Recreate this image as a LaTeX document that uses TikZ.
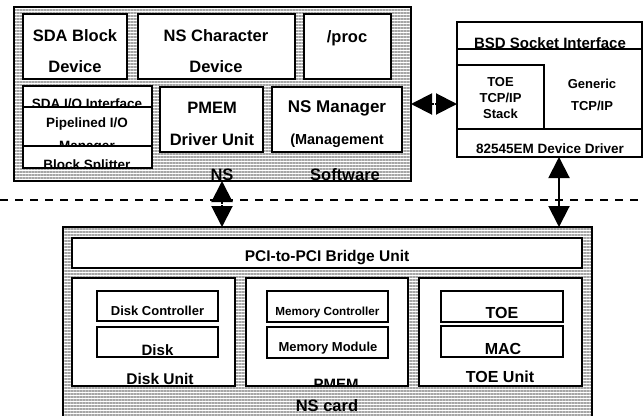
\documentclass[tikz,border=0pt]{standalone}
\usepackage{fontspec}
\setmainfont{Liberation Sans}
\usetikzlibrary{arrows.meta,patterns.meta}

\begin{document}
\begin{tikzpicture}[x=1pt, y=-1pt,
    panel/.style={draw, line width=1.8pt, inner sep=0pt, outer sep=0pt,
      preaction={fill=white},
      pattern={Lines[angle=0, distance=3pt, line width=1.8pt]},
      pattern color=gray!70},
    cell/.style={draw, fill=white, line width=1.4pt, inner sep=0pt, outer sep=0pt},
    dims/.style 2 args={minimum width=#1pt, minimum height=#2pt},
    txt/.style={anchor=base, inner sep=0pt, font=\bfseries\fontsize{#1}{#1}\selectfont},
    txt/.default=13,
    link/.style={line width=2pt,
      {Triangle[length=21pt, width=21pt]}-{Triangle[length=21pt, width=21pt]}},
    split mark/.style={sloped, fill=white, inner sep=0pt, minimum width=1pt, minimum height=#1pt},
    border/.style={line width=1.4pt, dash pattern=on 8pt off 7pt}]

  \useasboundingbox (0,0) rectangle (644,415);

  % NS software on the host
  \node[panel, dims={397}{174}] (sw) at (212.5,94) {};
  \node[cell, dims={104}{65}] (sda) at (75,46.5) {};
  \node[cell, dims={157}{65}] (nschar) at (216.5,46.5) {};
  \node[cell, dims={87}{65}] (proc) at (347.5,46.5) {};
  \node[txt=16.5] (sdaA) at (75,41) {SDA Block};
  \node[txt=16.5] (sdaB) at (75,72) {Device};
  \node[txt=16.5] (nscharA) at (216,41) {NS Character};
  \node[txt=16.5] (nscharB) at (216,72) {Device};
  \node[txt=16.5] (proclbl) at (347,42) {/proc};

  % block path: interface, pipeline, splitter
  \node[cell, dims={129}{21}] (sdaio) at (87.5,96.5) {};
  \node[cell, dims={129}{39}] (pipe) at (87.5,126.5) {};
  \node[cell, dims={129}{22}] (split) at (87.5,157) {};
  \begin{scope}
    \clip (sdaio.south west) rectangle (sdaio.north east);
    \node[txt=13.5] (sdaiolbl) at (87,108) {SDA I/O Interface};
  \end{scope}
  \begin{scope}
    \clip (pipe.south west) rectangle (pipe.north east);
    \node[txt=13.5] (pipeA) at (87,127) {Pipelined I/O};
    \node[txt=13.5] (pipeB) at (87,150) {Manager};
  \end{scope}
  \begin{scope}
    \clip (split.south west) rectangle (split.north east);
    \node[txt=13.5] (splitlbl) at (87,169) {Block Splitter};
  \end{scope}

  \node[cell, dims={103}{65}] (pmemdrv) at (211.5,119.5) {};
  \node[cell, dims={130}{65}] (nsmgr) at (337,119.5) {};
  \node[txt=16.5] (pmemdrvA) at (212,113) {PMEM};
  \node[txt=16.5] (pmemdrvB) at (212,145) {Driver Unit};
  \node[txt=17] (nsmgrA) at (337,112) {NS Manager};
  \node[txt=14.5] (nsmgrB) at (337,144) {(Management};

  \node[txt=16.5] (nslbl) at (222,180) {NS};
  \node[txt=16.5] (swlbl) at (345,180) {Software};

  % network stack
  \node[cell, dims={185}{135}] (bsd) at (549.5,89.5) {};
  \node[cell, dims={185}{27}] (bsdrow) at (549.5,35.5) {};
  \node[cell, dims={87}{64}] (toestk) at (500.5,97) {};
  \node[cell, dims={185}{28}] (drv) at (549.5,143) {};
  \begin{scope}
    \clip (bsdrow.south west) rectangle (bsdrow.north east);
    \node[txt=15] (bsdlbl) at (550,48) {BSD Socket Interface};
  \end{scope}
  \node[txt] (toestkA) at (500.5,86) {TOE};
  \node[txt] (toestkB) at (500.5,102) {TCP/IP};
  \node[txt] (toestkC) at (500.5,118) {Stack};
  \node[txt] (genA) at (592,88) {Generic};
  \node[txt] (genB) at (592,110) {TCP/IP};
  \node[txt=13.5] (drvlbl) at (550,153) {82545EM Device Driver};

  % host / card boundary
  \draw[border] (0,200) -- (644,200);

  % NS card hardware
  \node[panel, dims={529}{190}] (card) at (327.5,322) {};
  \node[cell, dims={510}{30}] (bridge) at (327,253) {};
  \node[txt=15.5] (bridgelbl) at (327,261.5) {PCI-to-PCI Bridge Unit};

  \node[cell, dims={163}{108}] (diskunit) at (153.5,332) {};
  \node[cell, dims={121}{30}] (diskctl) at (157.5,306) {};
  \node[cell, dims={121}{30}] (disk) at (157.5,342) {};
  \node[txt] (diskctllbl) at (157.5,315.5) {Disk Controller};
  \node[txt=15] (disklbl) at (157.5,355) {Disk};
  \begin{scope}
    \clip (diskunit.south west) rectangle (diskunit.north east);
    \node[txt=15.5] (diskunitlbl) at (160,384) {Disk Unit};
  \end{scope}

  \node[cell, dims={162}{108}] (pmem) at (327,332) {};
  \node[cell, dims={121}{31}] (memctl) at (327.5,306.5) {};
  \node[cell, dims={121}{31}] (memmod) at (327.5,342.5) {};
  \node[txt=11.7] (memctllbl) at (327.5,315) {Memory Controller};
  \node[txt] (memmodlbl) at (328,351) {Memory Module};
  \begin{scope}
    \clip (pmem.south west) rectangle (pmem.north east);
    \node[txt=15] (pmemlbl) at (336,389) {PMEM};
  \end{scope}

  \node[cell, dims={163}{108}] (toeunit) at (500.5,332) {};
  \node[cell, dims={122}{31}] (toe) at (502,306.5) {};
  \node[cell, dims={122}{31}] (mac) at (502,341.5) {};
  \node[txt=16] (toelbl) at (502,318) {TOE};
  \node[txt=16] (maclbl) at (503,354) {MAC};
  \node[txt=16] (toeunitlbl) at (500,382) {TOE Unit};

  \node[txt=16.5] (cardlbl) at (327,411) {NS card};

  % links between the parts
  \draw[link] ([yshift=-10pt]sw.east) -- ([yshift=-10pt]sw.east -| bsd.west)
    node[split mark=18, pos=.5] (hsplit) {};
  \draw[link] (sw.south -| nslbl) -- (card.north -| nslbl)
    node[split mark=4, pos=.5] (vsplit) {};
  \draw[link] ([xshift=9.5pt]drv.south) -- ([xshift=9.5pt]drv.south |- card.north);
\end{tikzpicture}
\end{document}
